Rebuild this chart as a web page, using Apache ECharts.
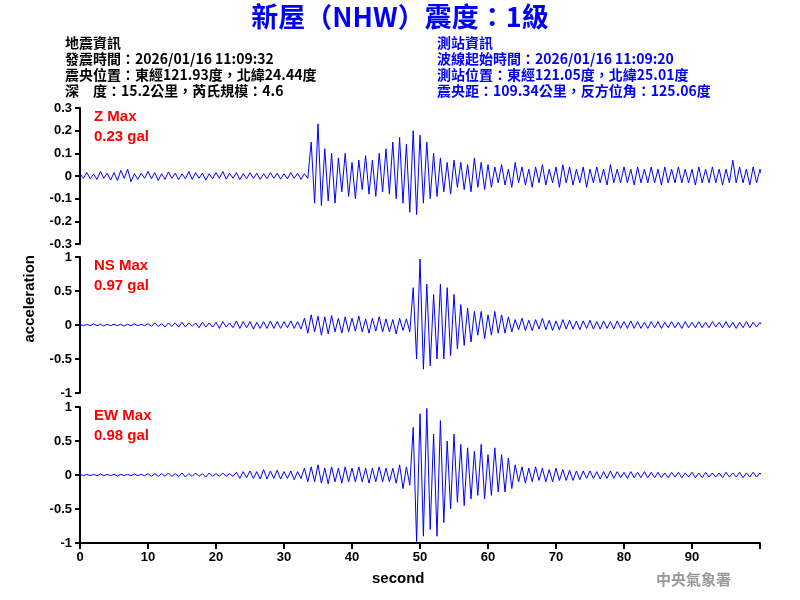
<!DOCTYPE html>
<html><head><meta charset="utf-8">
<script src="https://cdn.jsdelivr.net/npm/echarts@6/dist/echarts.min.js"></script>
<style>html,body{margin:0;padding:0;background:#fff}#c{width:800px;height:600px}</style>
</head><body><div id="c"></div>
<script>
const dt = 0.5;
const zValues = [0.01,-0.01,0.015,-0.012,0.008,-0.015,0.02,-0.01,0.012,-0.018,0.015,-0.02,0.025,-0.01,0.03,-0.025,0.01,-0.015,0.012,-0.01,0.02,-0.012,0.015,-0.02,0.01,-0.015,0.018,-0.01,0.012,-0.016,0.01,-0.012,0.02,-0.015,0.015,-0.01,0.012,-0.018,0.01,-0.012,0.015,-0.01,0.02,-0.014,0.012,-0.01,0.015,-0.016,0.01,-0.012,0.014,-0.01,0.012,-0.015,0.01,-0.012,0.015,-0.01,0.012,-0.014,0.01,-0.012,0.015,-0.01,0.012,-0.015,0.01,-0.01,
0.15,-0.12,0.23,-0.13,0.12,-0.11,0.1,-0.12,
0.08,-0.07,0.1,-0.09,0.06,-0.1,0.07,-0.06,0.09,-0.08,0.07,-0.09,0.1,-0.07,0.12,-0.08,
0.15,-0.1,0.17,-0.12,0.14,-0.16,0.2,-0.17,0.18,-0.12,0.15,-0.1,0.1,-0.09,
0.08,-0.07,0.06,-0.08,0.07,-0.05,0.06,-0.06,0.05,-0.07,0.08,-0.05,0.06,-0.06,0.05,-0.05,
0.04,-0.03,0.05,-0.04,0.03,-0.05,0.06,-0.03,0.04,-0.04,0.03,-0.05,0.04,-0.03,0.05,-0.04,0.03,-0.03,0.04,-0.05,
0.05,-0.03,0.04,-0.04,0.03,-0.03,0.04,-0.05,0.03,-0.03,0.04,-0.03,0.03,-0.04,0.05,-0.03,0.03,-0.03,0.04,-0.03,
0.03,-0.04,0.04,-0.03,0.03,-0.03,0.04,-0.03,0.03,-0.04,0.04,-0.03,0.03,-0.03,0.04,-0.03,0.03,-0.03,0.03,-0.04,
0.04,-0.03,0.03,-0.03,0.04,-0.03,0.03,-0.04,0.03,-0.03,0.07,-0.03,0.04,-0.03,0.03,-0.04,0.04,-0.03,0.03,-0.02];
const nsValues = [0.01,-0.01,0.01,-0.01,0.015,-0.01,0.01,-0.015,0.01,-0.01,0.01,-0.01,0.01,-0.015,0.01,-0.01,0.015,-0.01,0.01,-0.01,
0.02,-0.02,0.03,-0.02,0.02,-0.03,0.03,-0.02,0.03,-0.03,0.04,-0.03,0.03,-0.02,0.03,-0.04,0.04,-0.03,0.03,-0.03,0.04,-0.05,0.05,-0.03,0.03,-0.04,
0.06,-0.05,0.05,-0.04,0.05,-0.06,0.04,-0.05,0.05,-0.05,0.06,-0.05,0.05,-0.05,0.05,-0.04,0.06,-0.05,0.05,-0.06,
0.1,-0.12,0.15,-0.1,0.13,-0.15,0.12,-0.13,0.14,-0.1,0.1,-0.12,0.12,-0.1,
0.1,-0.09,0.13,-0.1,0.09,-0.12,0.1,-0.09,0.12,-0.1,0.09,-0.1,0.08,-0.13,0.1,-0.08,0.09,-0.1,
0.55,-0.5,0.97,-0.65,0.6,-0.6,0.45,-0.5,
0.6,-0.5,0.55,-0.45,0.45,-0.35,0.3,-0.3,0.25,-0.25,
0.2,-0.15,0.2,-0.2,0.15,-0.15,0.2,-0.12,0.15,-0.12,0.12,-0.1,
0.08,-0.07,0.1,-0.08,0.07,-0.08,0.08,-0.06,0.1,-0.07,0.07,-0.08,0.06,-0.07,0.08,-0.06,0.07,-0.06,0.06,-0.07,
0.06,-0.05,0.07,-0.06,0.05,-0.06,0.06,-0.05,0.05,-0.06,0.06,-0.05,0.05,-0.05,0.06,-0.05,0.05,-0.05,0.04,-0.05,
0.05,-0.04,0.05,-0.05,0.04,-0.04,0.05,-0.04,0.04,-0.05,0.05,-0.04,0.04,-0.04,0.05,-0.04,0.04,-0.04,0.05,-0.03,
0.04,-0.04,0.05,-0.04,0.04,-0.05,0.04,-0.04,0.05,-0.04,0.04,-0.03,0.04,-0.04,0.03,-0.04,0.04,-0.03];
const ewValues = [0.01,-0.01,0.01,-0.01,0.01,-0.01,0.015,-0.01,0.01,-0.01,0.01,-0.015,0.01,-0.01,0.01,-0.01,0.015,-0.01,0.01,-0.01,
0.02,-0.02,0.02,-0.02,0.02,-0.02,0.03,-0.02,0.02,-0.02,0.03,-0.03,0.02,-0.02,0.03,-0.02,0.02,-0.03,0.03,-0.02,0.02,-0.02,0.03,-0.02,0.02,-0.02,
0.04,-0.05,0.05,-0.04,0.06,-0.05,0.05,-0.06,0.08,-0.06,0.06,-0.05,0.07,-0.06,0.05,-0.05,0.06,-0.07,0.05,-0.05,
0.1,-0.1,0.12,-0.1,0.15,-0.12,0.1,-0.13,0.12,-0.1,0.1,-0.12,0.12,-0.1,
0.1,-0.1,0.12,-0.1,0.1,-0.12,0.1,-0.1,0.12,-0.1,0.1,-0.1,0.1,-0.12,0.15,-0.2,0.12,-0.15,
0.7,-0.98,0.9,-0.9,0.98,-0.8,0.6,-0.9,
0.8,-0.7,0.5,-0.5,0.6,-0.4,0.45,-0.45,0.4,-0.35,
0.35,-0.3,0.45,-0.35,0.3,-0.3,0.4,-0.25,0.3,-0.25,0.25,-0.2,
0.15,-0.1,0.12,-0.12,0.1,-0.1,0.12,-0.08,0.1,-0.1,0.08,-0.1,0.1,-0.08,0.08,-0.08,0.07,-0.08,0.06,-0.07,
0.06,-0.05,0.06,-0.05,0.05,-0.06,0.05,-0.05,0.06,-0.05,0.05,-0.04,0.04,-0.05,0.05,-0.04,0.04,-0.04,0.05,-0.04,
0.04,-0.04,0.04,-0.04,0.03,-0.04,0.04,-0.03,0.04,-0.04,0.03,-0.03,0.04,-0.04,0.03,-0.04,0.04,-0.03,0.03,-0.03,
0.03,-0.04,0.04,-0.03,0.03,-0.03,0.04,-0.04,0.03,-0.03,0.04,-0.03,0.03,-0.04,0.03,-0.03,0.04,-0.03];
const traceNames = ['Z Max','NS Max','EW Max'];
const maxLabels = ['0.23 gal','0.97 gal','0.98 gal'];
const yTicks = [[-0.3,0.3,0.1],[-1,1,0.5],[-1,1,0.5]];
const xTicks = [0,100,10];

const toXY = a => a.map((v,i)=>[i*dt,v]);
const series = [zValues,nsValues,ewValues];
const tops = [108,257,407];
const H = 136;
const FONT = 'Liberation Sans, Arial, sans-serif';
const CJK = '"Noto Sans CJK TC", sans-serif';
const grids = tops.map(t=>({left:80,right:40,top:t,height:H}));
const xAxes = tops.map((t,i)=>({type:'value',gridIndex:i,min:xTicks[0],max:xTicks[1],interval:xTicks[2],
  show:i===2,axisLine:{onZero:false,lineStyle:{color:'#000',width:2}},axisTick:{inside:false,length:6,lineStyle:{color:'#000',width:2}},splitLine:{show:false},
  axisLabel:{color:'#000',fontFamily:FONT,fontWeight:'bold',fontSize:13,formatter:v=>v>=100?'':String(v)}}));
const yAxes = tops.map((t,i)=>({type:'value',gridIndex:i,min:yTicks[i][0],max:yTicks[i][1],interval:yTicks[i][2],
  axisLine:{show:true,onZero:false,lineStyle:{color:'#000',width:2}},axisTick:{show:true,length:5,lineStyle:{color:'#000',width:2}},splitLine:{show:false},
  axisLabel:{color:'#000',fontFamily:FONT,fontWeight:'bold',fontSize:13,margin:8}}));
const sers = series.map((a,i)=>({type:'line',xAxisIndex:i,yAxisIndex:i,data:toXY(a),symbol:'none',lineStyle:{color:'#0000ff',width:1},silent:true,animation:false}));
const txt = (x,y,s,color,size,font)=>({type:'text',left:x,top:y,style:{text:s,fill:color,font:`bold ${size}px ${font}`}});
const leftLines = ['地震資訊','發震時間：2026/01/16 11:09:32','震央位置：東經121.93度，北緯24.44度','深　度：15.2公里，芮氏規模：4.6'];
const rightLines = ['測站資訊','波線起始時間：2026/01/16 11:09:20','測站位置：東經121.05度，北緯25.01度','震央距：109.34公里，反方位角：125.06度'];
const graphics = [];
graphics.push({type:'text',left:'center',top:3,style:{text:'新屋（NHW）震度：1級',fill:'#0000ff',font:`bold 27px ${CJK}`}});
leftLines.forEach((s,i)=>graphics.push(txt(65,36+i*16,s,'#000',14,CJK)));
rightLines.forEach((s,i)=>graphics.push(txt(437,36+i*16,s,'#0000ff',14,CJK)));
tops.forEach((t,i)=>{graphics.push(txt(94,t+1,traceNames[i],'#ff0000',15,FONT));graphics.push(txt(94,t+21,maxLabels[i],'#ff0000',15,FONT));});
graphics.push({type:'text',left:22,top:255,rotation:Math.PI/2,style:{text:'acceleration',fill:'#000',font:`bold 15px ${FONT}`}});
graphics.push(txt(372,571,'second','#000',15,FONT));
graphics.push(txt(656,572,'中央氣象署','#999',15,CJK));
const chart = echarts.init(document.getElementById('c'));
chart.setOption({animation:false,grid:grids,xAxis:xAxes,yAxis:yAxes,series:sers,graphic:graphics});
</script></body></html>
